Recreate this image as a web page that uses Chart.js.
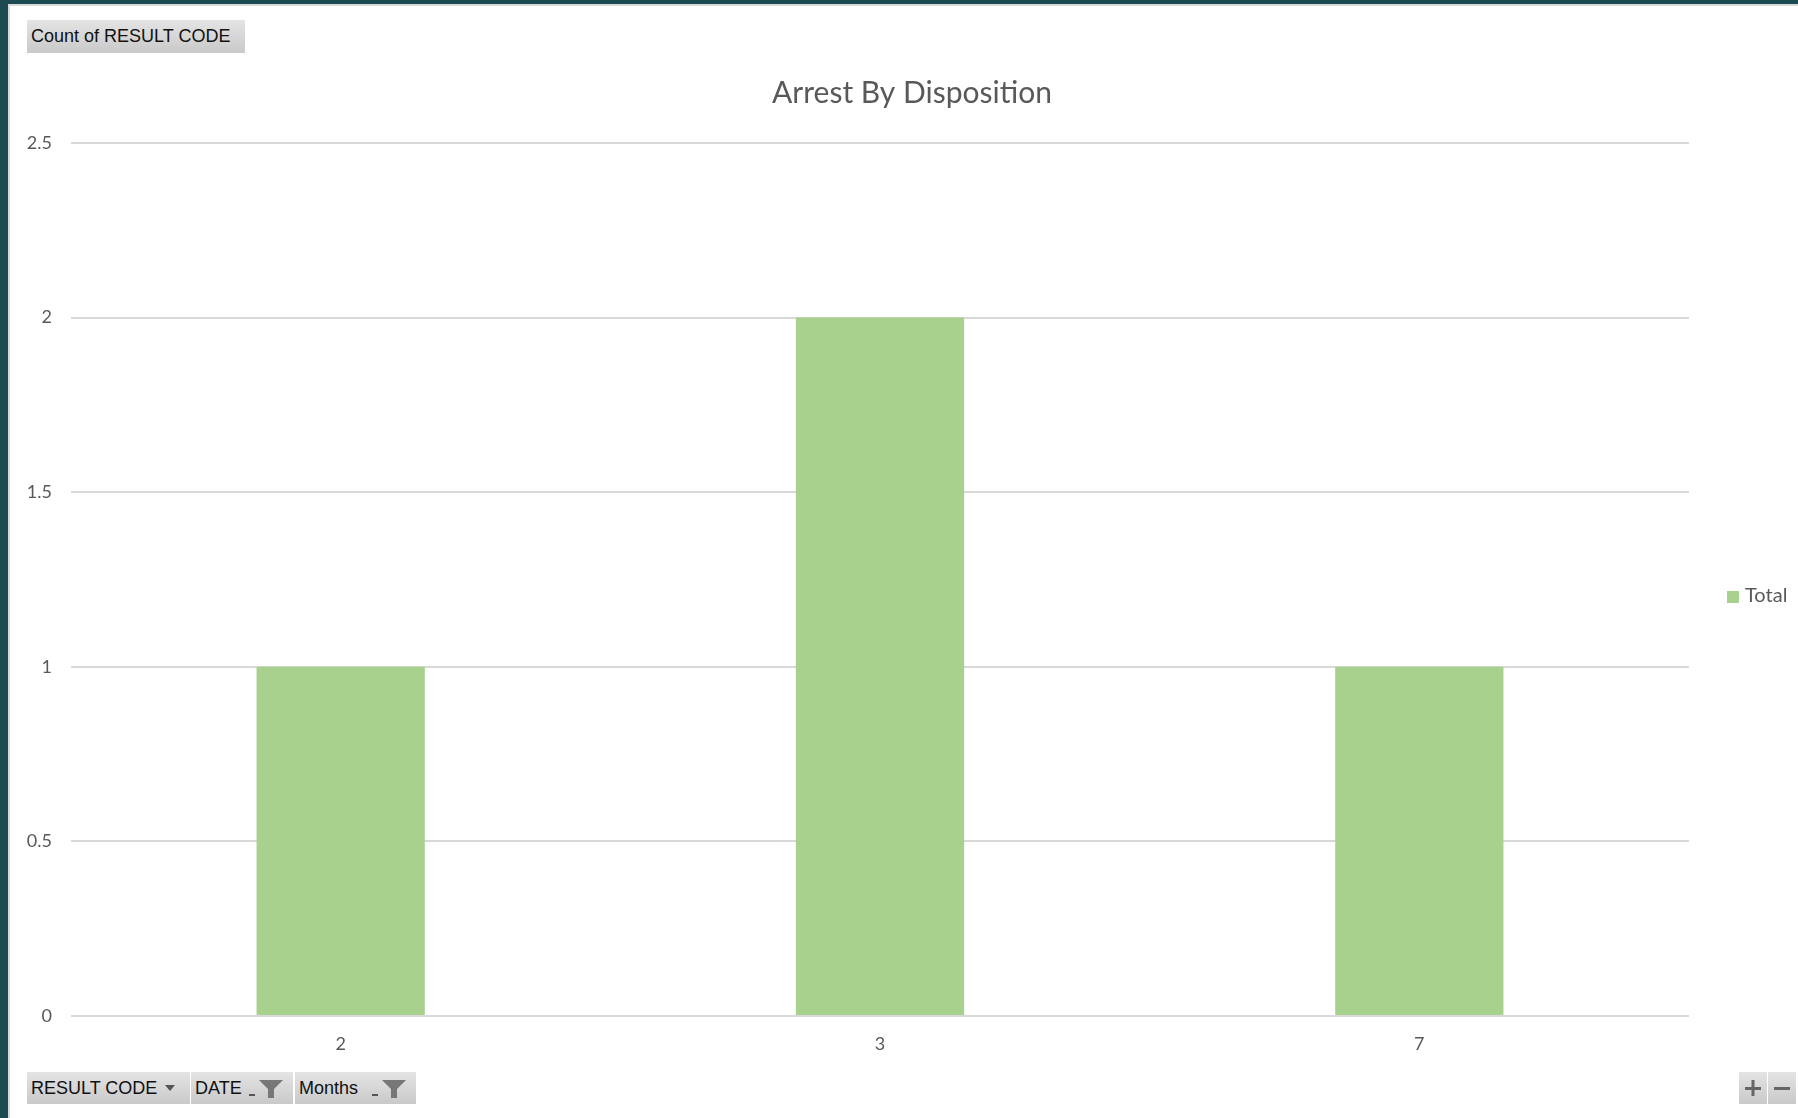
<!DOCTYPE html>
<html lang="en">

<head>
  <meta charset="UTF-8" />
  <title>Arrest By Disposition</title>
  <script src="https://cdn.jsdelivr.net/npm/chart.js"></script>
  <style>
    html, body {
      margin: 0;
      padding: 0;
      width: 1798px;
      height: 1118px;
      overflow: hidden;
      background: #1b4a52;
    }
    .panel {
      position: absolute;
      left: 8px;
      top: 4px;
      width: 1790px;
      height: 1114px;
      background: #ffffff;
      border-left: 2px solid #d9d9d9;
      border-top: 2px solid #d9d9d9;
      box-sizing: border-box;
      overflow: hidden;
    }
    #chartBox {
      position: absolute;
      left: 0;
      top: 0;
      width: 1804px;
      height: 1112px;
    }
    .btn {
      position: absolute;
      height: 32px;
      box-sizing: border-box;
      background: linear-gradient(#e4e4e4, #c9c9c9);
      font-family: "Liberation Sans", sans-serif;
      font-size: 18px;
      color: #111;
      line-height: 32px;
      padding-left: 4px;
      white-space: nowrap;
    }
    .btn svg { position: absolute; }
    .legend {
      position: absolute;
      left: 1717px;
      top: 576px;
      font-family: "Lato", sans-serif;
      font-size: 20px;
      color: #595959;
      line-height: 24px;
    }
    .legend span.sw {
      display: inline-block;
      width: 12px;
      height: 12px;
      margin-right: 6px;
      vertical-align: -1px;
    }
  </style>
</head>

<body>
  <div class="panel">
    <div id="chartBox"><canvas id="myChart"></canvas></div>

    <div class="btn" style="left:17px; top:14px; width:218px; height:33px; line-height:33px;">Count of RESULT CODE</div>

    <div class="btn" style="left:17px; top:1066px; width:163px;">RESULT CODE
      <svg style="left:138px; top:13px;" width="10" height="6"><path d="M0 0 L10 0 L5 6 Z" fill="#555" /></svg>
    </div>
    <div class="btn" style="left:181px; top:1066px; width:102px;">DATE
      <svg style="left:58px; top:7px;" width="36" height="20">
        <rect x="0" y="15" width="6" height="2" fill="#555" />
        <path d="M10 1 L34 1 L25 10 L25 19 L19 19 L19 10 Z" fill="#777" />
      </svg>
    </div>
    <div class="btn" style="left:285px; top:1066px; width:121px;">Months
      <svg style="left:77px; top:7px;" width="36" height="20">
        <rect x="0" y="15" width="6" height="2" fill="#555" />
        <path d="M10 1 L34 1 L25 10 L25 19 L19 19 L19 10 Z" fill="#777" />
      </svg>
    </div>

    <div class="btn" style="left:1729px; top:1066px; width:28px; padding:0;">
      <svg style="left:6px; top:8px;" width="16" height="16"><rect x="0" y="7" width="16" height="3" fill="#666" /><rect x="6.5" y="0" width="3" height="16" fill="#666" /></svg>
    </div>
    <div class="btn" style="left:1758px; top:1066px; width:28px; padding:0;">
      <svg style="left:6px; top:8px;" width="16" height="16"><rect x="0" y="7" width="16" height="3" fill="#666" /></svg>
    </div>

    <div class="legend" id="legend"></div>
  </div>

  <script>
    // Datos del gráfico
    const categories = ["2", "3", "7"];
    const totals = [1, 2, 1];
    const seriesName = "Total";
    const yTicks = [0, 0.5, 1, 1.5, 2, 2.5];

    const barColor = "#a9d18e";
    const textColor = "#595959";
    const gridColor = "#d9d9d9";

    const ctx = document.getElementById("myChart").getContext("2d");

    const chart = new Chart(ctx, {
      type: "bar",
      data: {
        labels: categories,
        datasets: [
          {
            label: seriesName,
            data: totals,
            backgroundColor: barColor,
            borderWidth: 0,
            barPercentage: 0.312,
            categoryPercentage: 1,
          },
        ],
      },
      options: {
        responsive: true,
        maintainAspectRatio: false,
        animation: false,
        layout: {
          padding: { left: 0, right: 0, top: 0, bottom: 40 },
        },
        plugins: {
          legend: { display: false },
          tooltip: { enabled: false },
          title: {
            display: true,
            text: "Arrest By Disposition",
            color: textColor,
            font: { family: "Lato", size: 30, weight: "normal", lineHeight: 1.2 },
            padding: { top: 69, bottom: 32 },
          },
        },
        scales: {
          x: {
            grid: { display: false },
            border: { display: false },
            ticks: {
              color: textColor,
              font: { family: "Lato", size: 18 },
              padding: 9,
            },
            afterFit: (s) => { s.height = 62; },
          },
          y: {
            min: yTicks[0],
            max: yTicks[yTicks.length - 1],
            afterBuildTicks: (s) => { s.ticks = yTicks.map((v) => ({ value: v })); },
            grid: { color: gridColor, lineWidth: 2, drawTicks: false },
            border: { display: false },
            ticks: {
              color: textColor,
              font: { family: "Lato", size: 18 },
              padding: 19,
              callback: (v) => String(v),
            },
            afterFit: (s) => { s.width = 61; },
          },
          // espacio a la derecha para la leyenda
          yRight: {
            position: "right",
            grid: { display: false },
            border: { display: false },
            ticks: { display: false },
            afterFit: (s) => { s.width = 125; },
          },
        },
      },
    });

    // Leyenda
    document.getElementById("legend").innerHTML =
      '<span class="sw" style="background:' + barColor + '"></span>' + seriesName;
  </script>
</body>

</html>
